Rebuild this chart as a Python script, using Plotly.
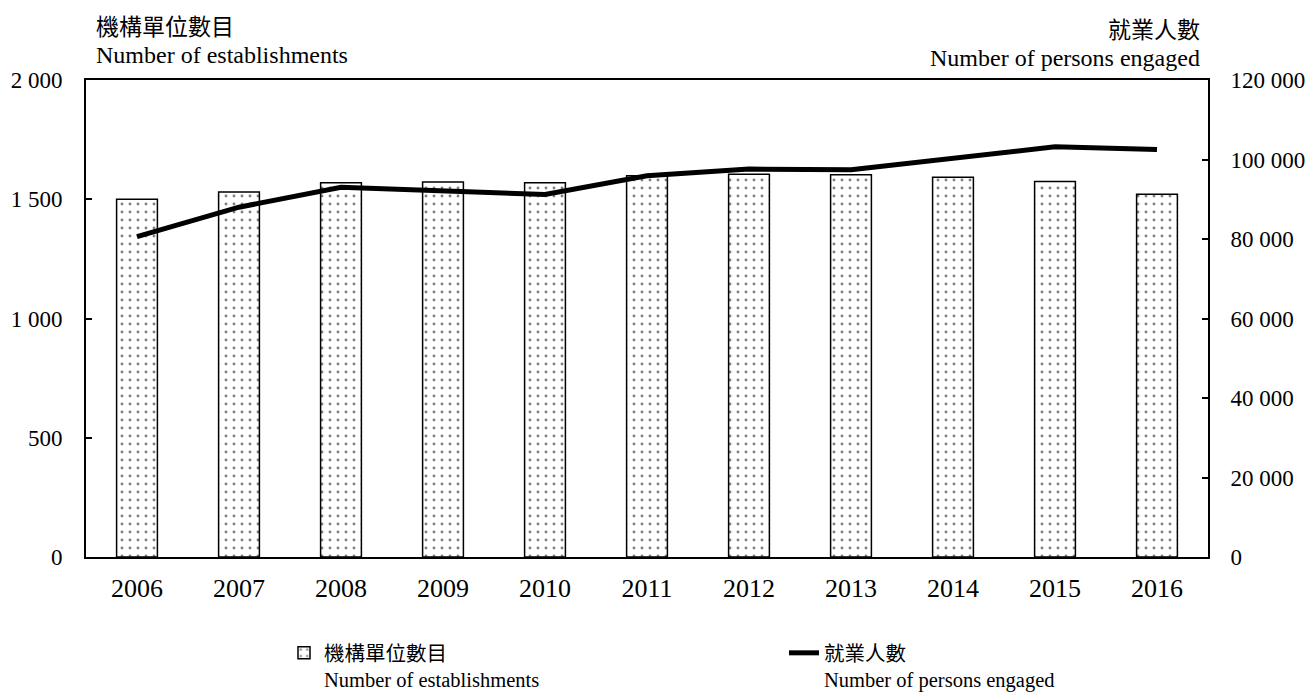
import plotly.graph_objects as go

years = ["2006", "2007", "2008", "2009", "2010", "2011", "2012", "2013", "2014", "2015", "2016"]
establishments = [1500, 1530, 1569, 1572, 1569, 1599, 1605, 1603, 1592, 1574, 1521]
persons_engaged = [80600, 88000, 93000, 92100, 91200, 95900, 97600, 97400, 100300, 103200, 102500]

left_ticks = [0, 500, 1000, 1500, 2000]
left_ticktext = ["0", "500", "1 000", "1 500", "2 000"]
right_ticks = [0, 20000, 40000, 60000, 80000, 100000, 120000]
right_ticktext = ["0", "20 000", "40 000", "60 000", "80 000", "100 000", "120 000"]

FONT = "Liberation Serif, 'Noto Sans CJK TC', serif"

fig = go.Figure()
fig.add_trace(go.Bar(
    x=years, y=establishments, name="機構單位數目<br>Number of establishments",
    width=0.4,
    marker=dict(color="white", line=dict(color="black", width=1.5),
                pattern=dict(shape=".", fgcolor="black", bgcolor="white", size=8, solidity=0.1)),
    yaxis="y",
))
fig.add_trace(go.Scatter(
    x=years, y=persons_engaged, name="就業人數<br>Number of persons engaged",
    mode="lines", line=dict(color="black", width=5),
    yaxis="y2",
))

fig.update_layout(
    width=1309, height=695,
    margin=dict(l=86, r=101, t=80, b=138, autoexpand=False),
    paper_bgcolor="white", plot_bgcolor="white",
    font=dict(family=FONT, size=23, color="black"),
    showlegend=True,
    legend=dict(
        orientation="h", xref="container", yref="container",
        x=284 / 1309, y=1 - 633 / 695, xanchor="left", yanchor="top",
        font=dict(size=20.5, family=FONT), valign="top",
        entrywidth=455, entrywidthmode="pixels", traceorder="normal",
    ),
    bargap=0.6,
    xaxis=dict(
        type="category", showline=True, linecolor="black", linewidth=2, mirror=True,
        ticks="", showgrid=False, tickfont=dict(size=26), ticklabelstandoff=7,
        automargin=False,
    ),
    yaxis=dict(
        range=[0, 2000], tickvals=left_ticks, ticktext=left_ticktext,
        showline=True, linecolor="black", linewidth=2, ticks="inside", ticklen=6,
        tickwidth=1.5, tickcolor="black", showgrid=False, zeroline=False,
        ticklabelstandoff=17, tickfont=dict(size=23), automargin=False,
    ),
    yaxis2=dict(
        range=[0, 120000], tickvals=right_ticks, ticktext=right_ticktext,
        overlaying="y", side="right",
        showline=True, linecolor="black", linewidth=2, ticks="inside", ticklen=6,
        tickwidth=1.5, tickcolor="black", showgrid=False, zeroline=False,
        ticklabelstandoff=16, tickfont=dict(size=23), automargin=False,
    ),
    annotations=[
        dict(text="機構單位數目", xref="paper", yref="paper", x=0.007, y=1.111,
             xanchor="left", yanchor="middle", showarrow=False, font=dict(size=23)),
        dict(text="Number of establishments", xref="paper", yref="paper", x=0.007, y=1.052,
             xanchor="left", yanchor="middle", showarrow=False, font=dict(size=24)),
        dict(text="就業人數", xref="paper", yref="paper", x=0.9947, y=1.103,
             xanchor="right", yanchor="middle", showarrow=False, font=dict(size=23)),
        dict(text="Number of persons engaged", xref="paper", yref="paper", x=0.9947, y=1.046,
             xanchor="right", yanchor="middle", showarrow=False, font=dict(size=24)),
    ],
)

fig.write_html("out.html", config={"displayModeBar": False},
               post_script="document.body.style.margin='0';")
